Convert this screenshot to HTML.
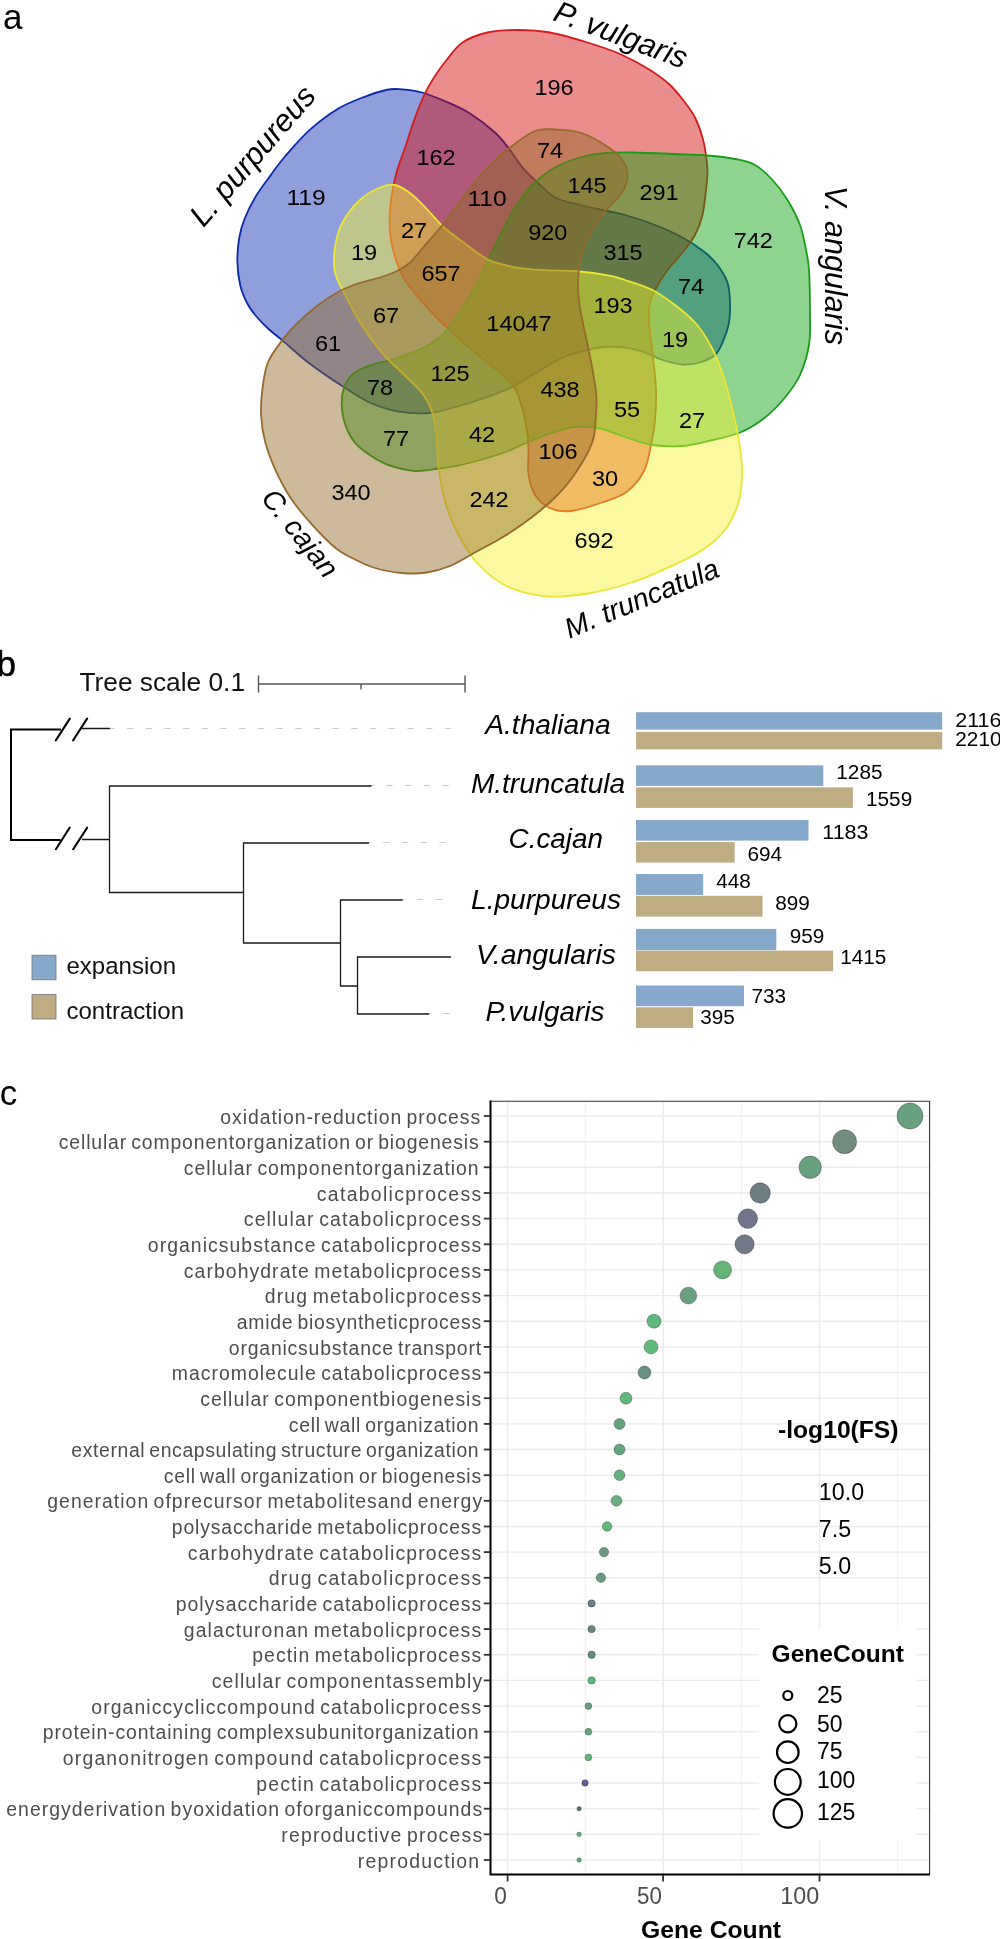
<!DOCTYPE html><html><head><meta charset="utf-8"><style>html,body{margin:0;padding:0;background:#fff;}svg{display:block;will-change:transform;}text{font-family:"Liberation Sans",sans-serif;}</style></head><body>
<svg width="1000" height="1939" viewBox="0 0 1000 1939">
<rect width="1000" height="1939" fill="#fff"/>
<text x="3" y="28.8" font-size="35" fill="#000">a</text>
<path d="M386.0,90.0 C391.8,88.7 393.0,88.7 399.0,89.1 C405.0,89.5 414.2,90.4 422.0,92.5 C429.8,94.6 438.0,98.1 446.0,101.6 C454.0,105.1 461.8,108.3 470.0,113.5 C478.2,118.7 488.3,126.4 495.0,132.5 C501.7,138.6 505.4,144.2 510.0,150.0 C514.6,155.8 517.9,162.1 522.5,167.5 C527.1,172.9 532.1,177.5 537.5,182.5 C542.9,187.5 547.9,193.8 555.0,197.5 C562.1,201.2 571.2,202.8 580.0,205.0 C588.8,207.2 600.0,209.3 607.5,211.0 C615.0,212.7 617.1,212.7 625.0,215.0 C632.9,217.3 645.4,221.2 655.0,225.0 C664.6,228.8 674.2,232.9 682.5,237.5 C690.8,242.1 699.2,247.9 705.0,252.5 C710.8,257.1 713.8,260.0 717.5,265.0 C721.2,270.0 725.4,276.2 727.5,282.5 C729.6,288.8 729.8,295.8 730.0,302.5 C730.2,309.2 730.2,315.8 729.0,322.5 C727.8,329.2 724.8,337.1 722.5,342.5 C720.2,347.9 718.8,351.7 715.0,355.0 C711.2,358.3 705.4,360.9 700.0,362.5 C694.6,364.1 688.8,364.9 682.5,364.5 C676.2,364.1 668.8,362.0 662.5,360.0 C656.2,358.0 651.2,354.6 645.0,352.5 C638.8,350.4 632.5,348.3 625.0,347.5 C617.5,346.7 609.8,346.1 600.0,347.5 C590.2,348.9 576.8,352.0 566.4,356.0 C556.0,360.0 546.9,366.4 537.8,371.6 C528.7,376.8 520.5,382.9 511.8,387.2 C503.1,391.5 495.8,394.1 485.8,397.6 C475.8,401.1 461.5,405.4 452.0,408.0 C442.5,410.6 437.9,412.6 428.8,413.1 C419.7,413.7 407.6,413.1 397.6,411.3 C387.6,409.5 378.1,406.3 369.0,402.2 C359.9,398.1 353.0,393.1 343.0,386.6 C333.0,380.1 319.2,370.8 309.2,363.2 C299.2,355.6 290.1,346.9 283.2,341.1 C276.3,335.3 272.5,332.7 268.0,328.5 C263.5,324.3 259.4,320.1 256.0,316.0 C252.6,311.9 250.2,309.0 247.6,304.0 C245.0,299.0 242.1,293.0 240.4,286.0 C238.7,279.0 237.6,270.0 237.4,262.0 C237.2,254.0 238.0,245.2 239.2,238.0 C240.4,230.8 241.7,226.0 244.5,219.0 C247.3,212.0 251.7,203.2 256.0,196.0 C260.3,188.8 265.6,182.2 270.4,175.6 C275.2,169.0 278.5,164.0 285.0,156.5 C291.5,149.0 300.4,138.3 309.2,130.4 C318.0,122.5 328.8,114.4 338.0,108.8 C347.2,103.2 356.4,99.9 364.4,96.8 C372.4,93.7 380.2,91.3 386.0,90.0 Z" fill="rgb(12,46,179)" fill-opacity="0.46" stroke="rgb(10,42,168)" stroke-width="1.8"/>
<path d="M517.5,30.0 C527.9,30.0 538.3,30.4 550.0,32.5 C561.7,34.6 575.8,38.9 587.5,42.5 C599.2,46.1 609.6,49.4 620.0,54.0 C630.4,58.6 641.7,64.8 650.0,70.0 C658.3,75.2 664.2,79.6 670.0,85.0 C675.8,90.4 680.8,97.1 685.0,102.5 C689.2,107.9 692.1,111.7 695.0,117.5 C697.9,123.3 700.7,131.2 702.5,137.5 C704.3,143.8 705.2,149.2 706.0,155.0 C706.8,160.8 707.5,166.7 707.5,172.5 C707.5,178.3 706.8,182.9 706.0,190.0 C705.2,197.1 704.3,207.5 702.5,215.0 C700.7,222.5 698.3,228.8 695.0,235.0 C691.7,241.2 687.1,246.7 682.5,252.5 C677.9,258.3 672.1,263.8 667.5,270.0 C662.9,276.2 657.9,284.6 655.0,290.0 C652.1,295.4 651.0,297.1 650.0,302.5 C649.0,307.9 648.6,314.2 649.0,322.5 C649.4,330.8 651.3,341.2 652.5,352.5 C653.7,363.8 655.6,378.8 656.0,390.0 C656.4,401.2 655.8,410.8 655.0,420.0 C654.2,429.2 652.8,436.5 651.0,445.0 C649.2,453.5 648.1,463.2 644.0,471.0 C639.9,478.8 633.5,486.8 626.5,492.0 C619.5,497.2 611.3,499.3 602.0,502.5 C592.7,505.7 579.2,510.1 570.5,511.0 C561.8,511.9 555.3,510.3 549.5,507.8 C543.7,505.2 539.0,501.0 535.5,495.5 C532.0,490.0 529.7,482.1 528.5,474.5 C527.3,466.9 528.7,456.8 528.5,450.0 C528.3,443.2 528.4,441.0 527.4,434.0 C526.4,427.0 524.4,415.8 522.2,408.0 C520.0,400.2 518.3,393.3 514.4,387.2 C510.5,381.1 505.7,377.7 498.8,371.6 C491.9,365.5 481.5,358.2 472.8,350.8 C464.1,343.4 453.7,333.9 446.8,327.4 C439.9,320.9 436.8,317.9 431.2,311.8 C425.6,305.7 418.0,297.5 413.0,291.0 C408.0,284.5 404.7,281.5 401.0,273.0 C397.3,264.5 392.8,250.5 391.0,240.0 C389.2,229.5 389.2,220.7 390.0,210.0 C390.8,199.3 393.1,186.5 395.6,176.0 C398.1,165.5 402.0,156.8 405.2,147.2 C408.4,137.6 411.6,127.2 414.8,118.4 C418.0,109.6 421.4,101.2 424.6,94.4 C427.8,87.6 430.4,83.2 434.0,77.6 C437.6,72.0 441.2,66.6 446.0,60.8 C450.8,54.9 455.6,47.2 462.5,42.5 C469.4,37.8 478.3,34.6 487.5,32.5 C496.7,30.4 507.1,30.0 517.5,30.0 Z" fill="rgb(214,7,7)" fill-opacity="0.46" stroke="rgb(212,28,28)" stroke-width="1.8"/>
<path d="M632.5,152.5 C644.2,152.7 662.5,153.5 675.0,154.0 C687.5,154.5 697.5,154.7 707.5,155.5 C717.5,156.3 727.1,157.4 735.0,159.0 C742.9,160.6 748.8,161.5 755.0,165.0 C761.2,168.5 767.1,174.2 772.5,180.0 C777.9,185.8 782.9,192.5 787.5,200.0 C792.1,207.5 796.9,216.7 800.0,225.0 C803.1,233.3 804.5,242.5 806.0,250.0 C807.5,257.5 808.3,259.2 809.0,270.0 C809.7,280.8 810.0,302.5 810.0,315.0 C810.0,327.5 810.7,335.0 809.0,345.0 C807.3,355.0 804.0,366.2 800.0,375.0 C796.0,383.8 790.8,390.4 785.0,397.5 C779.2,404.6 772.5,411.7 765.0,417.5 C757.5,423.3 748.8,428.8 740.0,432.5 C731.2,436.2 722.1,437.8 712.5,440.0 C702.9,442.2 692.5,445.2 682.5,446.0 C672.5,446.8 662.1,446.5 652.5,445.0 C642.9,443.5 633.8,439.8 625.0,437.0 C616.2,434.2 608.5,430.2 600.0,428.5 C591.5,426.8 582.3,426.2 574.0,427.0 C565.7,427.8 558.0,430.8 550.0,433.5 C542.0,436.2 533.8,439.8 526.0,443.0 C518.2,446.2 510.7,450.2 503.0,453.0 C495.3,455.8 487.5,457.9 480.0,460.0 C472.5,462.1 464.8,464.1 458.0,465.5 C451.2,466.9 446.2,467.6 439.2,468.5 C432.2,469.4 423.2,471.3 415.8,471.1 C408.4,470.9 401.5,469.1 395.0,467.2 C388.5,465.2 383.3,463.3 376.8,459.4 C370.3,455.5 361.2,449.4 356.0,443.8 C350.8,438.2 348.0,432.1 345.6,425.6 C343.2,419.1 341.9,411.3 341.7,404.8 C341.5,398.3 342.4,391.8 344.3,386.6 C346.2,381.4 349.3,377.1 353.4,373.6 C357.5,370.1 361.6,368.4 369.0,365.8 C376.4,363.2 387.6,361.5 397.6,358.0 C407.6,354.5 420.4,349.9 428.8,345.0 C437.2,340.1 440.7,337.5 448.0,328.5 C455.3,319.5 466.1,302.4 472.8,291.0 C479.5,279.6 483.0,270.6 488.4,259.8 C493.8,249.0 499.7,236.0 505.0,226.0 C510.3,216.0 515.0,207.2 520.0,200.0 C525.0,192.8 529.2,187.9 535.0,182.5 C540.8,177.1 547.5,171.7 555.0,167.5 C562.5,163.3 571.7,159.9 580.0,157.5 C588.3,155.1 596.2,153.8 605.0,153.0 C613.8,152.2 620.8,152.3 632.5,152.5 Z" fill="rgb(9,162,14)" fill-opacity="0.46" stroke="rgb(22,158,22)" stroke-width="1.8"/>
<path d="M380.0,187.5 C385.8,185.0 389.6,183.8 395.0,185.0 C400.4,186.2 406.7,190.4 412.5,195.0 C418.3,199.6 424.8,207.1 430.0,212.5 C435.2,217.9 438.6,222.7 444.0,227.5 C449.4,232.3 455.0,236.2 462.4,241.6 C469.8,247.0 479.3,255.5 488.4,259.8 C497.5,264.1 507.5,265.9 517.0,267.6 C526.5,269.3 535.2,269.6 545.6,270.2 C556.0,270.8 569.0,270.6 579.4,271.5 C589.8,272.4 600.4,274.0 608.0,275.4 C615.6,276.8 617.6,277.6 625.0,280.0 C632.4,282.4 644.2,285.8 652.5,290.0 C660.8,294.2 667.9,299.6 675.0,305.0 C682.1,310.4 689.6,316.7 695.0,322.5 C700.4,328.3 703.8,333.8 707.5,340.0 C711.2,346.2 714.2,351.7 717.5,360.0 C720.8,368.3 724.4,379.2 727.5,390.0 C730.6,400.8 733.8,414.2 736.0,425.0 C738.2,435.8 740.0,446.7 741.0,455.0 C742.0,463.3 742.4,467.1 742.0,475.0 C741.6,482.9 741.4,493.2 738.5,502.5 C735.6,511.8 730.9,522.3 724.5,530.5 C718.1,538.7 709.9,545.1 700.0,551.5 C690.1,557.9 676.7,563.8 665.0,569.0 C653.3,574.2 642.8,578.9 630.0,583.0 C617.2,587.1 602.0,591.3 588.0,593.5 C574.0,595.7 559.4,597.5 546.0,596.3 C532.6,595.1 518.6,591.6 507.5,586.5 C496.4,581.4 487.4,573.7 479.5,565.5 C471.6,557.3 465.6,547.6 460.0,537.5 C454.4,527.4 449.6,516.7 446.0,505.0 C442.4,493.3 440.1,479.0 438.5,467.5 C436.9,456.0 437.8,445.6 436.6,436.0 C435.4,426.4 434.0,417.4 431.4,410.0 C428.8,402.6 425.8,397.9 421.0,391.8 C416.2,385.7 409.3,380.1 402.8,373.6 C396.3,367.1 388.9,361.0 382.0,352.8 C375.1,344.6 367.3,333.7 361.2,324.2 C355.1,314.7 350.0,304.2 345.6,295.6 C341.2,287.0 336.8,280.5 335.0,272.5 C333.2,264.5 333.8,255.8 335.0,247.5 C336.2,239.2 338.3,230.4 342.5,222.5 C346.7,214.6 353.8,205.8 360.0,200.0 C366.2,194.2 374.2,190.0 380.0,187.5 Z" fill="rgb(244,242,48)" fill-opacity="0.46" stroke="rgb(236,230,50)" stroke-width="1.8"/>
<path d="M535.0,131.0 C542.5,128.0 547.5,129.2 555.0,129.5 C562.5,129.8 571.7,129.9 580.0,132.5 C588.3,135.1 597.9,140.4 605.0,145.0 C612.1,149.6 618.8,155.0 622.5,160.0 C626.2,165.0 627.5,169.7 627.5,175.0 C627.5,180.3 625.6,186.7 622.5,192.0 C619.4,197.3 613.1,202.2 609.0,207.0 C604.9,211.8 600.9,216.0 597.6,220.8 C594.3,225.6 591.6,230.8 589.0,236.0 C586.4,241.2 583.8,245.0 582.0,252.0 C580.2,259.0 578.5,269.3 578.1,278.0 C577.7,286.7 577.9,293.2 579.4,304.0 C580.9,314.8 585.0,332.2 587.2,343.0 C589.4,353.8 590.9,360.3 592.4,369.0 C593.9,377.7 595.7,387.5 596.3,395.0 C596.9,402.5 596.4,407.2 596.0,414.0 C595.6,420.8 595.2,429.8 594.0,436.0 C592.8,442.2 590.8,446.0 588.5,451.0 C586.2,456.0 583.2,460.8 580.0,466.0 C576.8,471.2 573.0,476.9 569.0,482.0 C565.0,487.1 560.7,491.8 556.0,496.5 C551.3,501.2 546.7,505.3 541.0,510.0 C535.3,514.7 528.8,519.7 522.0,524.5 C515.2,529.3 508.0,534.0 500.0,538.8 C492.0,543.5 482.3,548.5 474.0,553.0 C465.7,557.5 457.8,562.8 450.0,566.0 C442.2,569.2 435.0,571.3 427.0,572.5 C419.0,573.7 410.7,573.8 402.0,573.0 C393.3,572.2 383.3,570.5 375.0,568.0 C366.7,565.5 358.6,561.4 352.0,558.0 C345.4,554.6 341.9,553.4 335.2,547.8 C328.5,542.2 319.2,532.6 311.8,524.4 C304.4,516.2 297.1,507.5 291.0,498.4 C284.9,489.3 279.7,479.3 275.4,469.8 C271.1,460.3 267.4,450.3 265.0,441.2 C262.6,432.1 261.5,423.9 261.1,415.2 C260.7,406.5 261.3,397.9 262.4,389.2 C263.5,380.5 264.6,371.0 267.6,363.2 C270.6,355.4 275.8,348.9 280.6,342.4 C285.4,335.9 290.1,330.3 296.2,324.2 C302.3,318.1 310.0,311.4 317.0,306.0 C324.0,300.6 331.2,295.8 338.0,292.0 C344.8,288.2 351.0,285.9 358.0,283.5 C365.0,281.1 373.7,279.5 380.0,277.5 C386.3,275.5 391.0,274.0 396.0,271.5 C401.0,269.0 405.3,266.7 410.0,262.5 C414.7,258.3 418.7,252.6 424.0,246.5 C429.3,240.4 435.4,233.8 441.6,226.0 C447.8,218.2 453.8,209.3 461.0,200.0 C468.2,190.7 476.8,178.8 485.0,170.0 C493.2,161.2 501.7,154.0 510.0,147.5 C518.3,141.0 527.5,134.0 535.0,131.0 Z" fill="rgb(146,103,38)" fill-opacity="0.46" stroke="rgb(150,105,45)" stroke-width="1.8"/>
<text x="554" y="94.8" font-size="22.4" text-anchor="middle" fill="#000" textLength="39.2" lengthAdjust="spacingAndGlyphs">196</text>
<text x="436" y="164.8" font-size="22.4" text-anchor="middle" fill="#000" textLength="39.2" lengthAdjust="spacingAndGlyphs">162</text>
<text x="550" y="157.8" font-size="22.4" text-anchor="middle" fill="#000" textLength="26.2" lengthAdjust="spacingAndGlyphs">74</text>
<text x="306" y="205.3" font-size="22.4" text-anchor="middle" fill="#000" textLength="39.2" lengthAdjust="spacingAndGlyphs">119</text>
<text x="487" y="205.8" font-size="22.4" text-anchor="middle" fill="#000" textLength="39.2" lengthAdjust="spacingAndGlyphs">110</text>
<text x="587" y="192.8" font-size="22.4" text-anchor="middle" fill="#000" textLength="39.2" lengthAdjust="spacingAndGlyphs">145</text>
<text x="659" y="199.8" font-size="22.4" text-anchor="middle" fill="#000" textLength="39.2" lengthAdjust="spacingAndGlyphs">291</text>
<text x="414" y="237.8" font-size="22.4" text-anchor="middle" fill="#000" textLength="26.2" lengthAdjust="spacingAndGlyphs">27</text>
<text x="547.8" y="239.8" font-size="22.4" text-anchor="middle" fill="#000" textLength="39.2" lengthAdjust="spacingAndGlyphs">920</text>
<text x="753.3" y="247.8" font-size="22.4" text-anchor="middle" fill="#000" textLength="39.2" lengthAdjust="spacingAndGlyphs">742</text>
<text x="364" y="259.8" font-size="22.4" text-anchor="middle" fill="#000" textLength="26.2" lengthAdjust="spacingAndGlyphs">19</text>
<text x="441" y="280.8" font-size="22.4" text-anchor="middle" fill="#000" textLength="39.2" lengthAdjust="spacingAndGlyphs">657</text>
<text x="623" y="259.8" font-size="22.4" text-anchor="middle" fill="#000" textLength="39.2" lengthAdjust="spacingAndGlyphs">315</text>
<text x="691" y="293.8" font-size="22.4" text-anchor="middle" fill="#000" textLength="26.2" lengthAdjust="spacingAndGlyphs">74</text>
<text x="386" y="322.8" font-size="22.4" text-anchor="middle" fill="#000" textLength="26.2" lengthAdjust="spacingAndGlyphs">67</text>
<text x="519" y="330.8" font-size="22.4" text-anchor="middle" fill="#000" textLength="65.4" lengthAdjust="spacingAndGlyphs">14047</text>
<text x="613" y="312.8" font-size="22.4" text-anchor="middle" fill="#000" textLength="39.2" lengthAdjust="spacingAndGlyphs">193</text>
<text x="328" y="350.8" font-size="22.4" text-anchor="middle" fill="#000" textLength="26.2" lengthAdjust="spacingAndGlyphs">61</text>
<text x="675" y="346.8" font-size="22.4" text-anchor="middle" fill="#000" textLength="26.2" lengthAdjust="spacingAndGlyphs">19</text>
<text x="450" y="380.8" font-size="22.4" text-anchor="middle" fill="#000" textLength="39.2" lengthAdjust="spacingAndGlyphs">125</text>
<text x="380" y="394.8" font-size="22.4" text-anchor="middle" fill="#000" textLength="26.2" lengthAdjust="spacingAndGlyphs">78</text>
<text x="560" y="396.8" font-size="22.4" text-anchor="middle" fill="#000" textLength="39.2" lengthAdjust="spacingAndGlyphs">438</text>
<text x="627" y="416.8" font-size="22.4" text-anchor="middle" fill="#000" textLength="26.2" lengthAdjust="spacingAndGlyphs">55</text>
<text x="692" y="427.8" font-size="22.4" text-anchor="middle" fill="#000" textLength="26.2" lengthAdjust="spacingAndGlyphs">27</text>
<text x="396" y="445.8" font-size="22.4" text-anchor="middle" fill="#000" textLength="26.2" lengthAdjust="spacingAndGlyphs">77</text>
<text x="482" y="441.8" font-size="22.4" text-anchor="middle" fill="#000" textLength="26.2" lengthAdjust="spacingAndGlyphs">42</text>
<text x="558" y="458.8" font-size="22.4" text-anchor="middle" fill="#000" textLength="39.2" lengthAdjust="spacingAndGlyphs">106</text>
<text x="605" y="485.8" font-size="22.4" text-anchor="middle" fill="#000" textLength="26.2" lengthAdjust="spacingAndGlyphs">30</text>
<text x="351" y="499.8" font-size="22.4" text-anchor="middle" fill="#000" textLength="39.2" lengthAdjust="spacingAndGlyphs">340</text>
<text x="489" y="506.8" font-size="22.4" text-anchor="middle" fill="#000" textLength="39.2" lengthAdjust="spacingAndGlyphs">242</text>
<text x="594" y="547.8" font-size="22.4" text-anchor="middle" fill="#000" textLength="39.2" lengthAdjust="spacingAndGlyphs">692</text>
<text transform="translate(621.0,34.6) rotate(20.5)" x="0" y="0" font-size="30.8" text-anchor="middle" dominant-baseline="central" font-style="italic" fill="#000">P. vulgaris</text>
<text transform="translate(252.6,155.6) rotate(-49.1)" x="0" y="0" font-size="31" text-anchor="middle" dominant-baseline="central" font-style="italic" fill="#000">L. purpureus</text>
<text transform="translate(835.5,265.5) rotate(90.0)" x="0" y="0" font-size="30.6" text-anchor="middle" dominant-baseline="central" font-style="italic" fill="#000">V. angularis</text>
<text transform="translate(641.5,598.0) rotate(-22.5)" x="0" y="0" font-size="28.4" text-anchor="middle" dominant-baseline="central" font-style="italic" fill="#000">M. truncatula</text>
<text transform="translate(300.5,533.0) rotate(51.5)" x="0" y="0" font-size="28.3" text-anchor="middle" dominant-baseline="central" font-style="italic" fill="#000">C. cajan</text>
<text x="-3.4" y="675.8" font-size="35" fill="#000" stroke="#000" stroke-width="0.5">b</text>
<text x="79.5" y="690.6" font-size="25.5" fill="#111" textLength="165.5" lengthAdjust="spacingAndGlyphs">Tree scale 0.1</text>
<g stroke="#555" stroke-width="1.4" fill="none"><path d="M258.5,684H465M258.5,675.5V692.5M465,675.5V692.5M361,684V689.5"/></g>
<g stroke="#bdbdbd" stroke-width="0.8" stroke-dasharray="6.4,12.3" fill="none"><path d="M108.2,728.5H452M367.5,785.5H452M364.5,842.5H452M398,899.5H452M424.5,1013.5H452"/></g>
<g stroke="#000" stroke-width="2" fill="none" stroke-linecap="butt"><path d="M11,728.6V841M10,729.6H61M10,840H60.5"/><path d="M55.9,740.3L69.8,718.6M73.2,740.3L87.1,718.6M55.9,849.2L69.6,827.7M73.2,849.2L87.1,827.7" stroke-width="2.1" stroke-linecap="round"/></g>
<g stroke="#1a1a1a" stroke-width="1.3" fill="none"><path d="M81.9,728.5H110M81.9,839.5H110"/><path d="M109.5,785.5V893M109,786H371.5M243.5,842.5V943.5M243,843H369M109,892.5H243M340.5,899.5V986.5M340,900H402.5M243,943H340M357.5,956.5V1014.5M357,957H451M357,1014H429M340,986H357"/></g>
<rect x="32" y="955.2" width="24" height="24.6" fill="#86a8cb" stroke="#777" stroke-width="0.8"/>
<rect x="32" y="994.4" width="24" height="24.6" fill="#beac82" stroke="#777" stroke-width="0.8"/>
<text x="66.5" y="973.8" font-size="24.3" fill="#111" textLength="109.5" lengthAdjust="spacingAndGlyphs">expansion</text>
<text x="66.5" y="1018.6" font-size="24.3" fill="#111" textLength="117.5" lengthAdjust="spacingAndGlyphs">contraction</text>
<text x="485.2" y="734.4" font-size="27" font-style="italic" fill="#000" textLength="125.4" lengthAdjust="spacingAndGlyphs">A.thaliana</text>
<text x="471.0" y="793.0" font-size="27" font-style="italic" fill="#000" textLength="154.0" lengthAdjust="spacingAndGlyphs">M.truncatula</text>
<text x="508.6" y="848.4" font-size="27" font-style="italic" fill="#000" textLength="94.4" lengthAdjust="spacingAndGlyphs">C.cajan</text>
<text x="471.0" y="909.0" font-size="27" font-style="italic" fill="#000" textLength="150.0" lengthAdjust="spacingAndGlyphs">L.purpureus</text>
<text x="476.0" y="964.4" font-size="27" font-style="italic" fill="#000" textLength="140.0" lengthAdjust="spacingAndGlyphs">V.angularis</text>
<text x="485.6" y="1021.0" font-size="27" font-style="italic" fill="#000" textLength="118.8" lengthAdjust="spacingAndGlyphs">P.vulgaris</text>
<rect x="636" y="712.2" width="306.2" height="17.4" fill="#86a8cb"/>
<rect x="636" y="731.9" width="306.2" height="17.5" fill="#beac82"/>
<rect x="636" y="765.3" width="187.3" height="20.6" fill="#86a8cb"/>
<rect x="636" y="787.4" width="216.9" height="20.5" fill="#beac82"/>
<rect x="636" y="820.0" width="172.5" height="20.6" fill="#86a8cb"/>
<rect x="636" y="842.1" width="98.7" height="20.5" fill="#beac82"/>
<rect x="636" y="874.0" width="67.2" height="21.0" fill="#86a8cb"/>
<rect x="636" y="895.8" width="126.5" height="20.8" fill="#beac82"/>
<rect x="636" y="928.9" width="140.3" height="21.3" fill="#86a8cb"/>
<rect x="636" y="950.7" width="197.1" height="20.5" fill="#beac82"/>
<rect x="636" y="985.5" width="108.0" height="20.7" fill="#86a8cb"/>
<rect x="636" y="1007.3" width="57.1" height="20.7" fill="#beac82"/>
<text x="955.3" y="727.4" font-size="19.5" fill="#000" textLength="46.2" lengthAdjust="spacingAndGlyphs">2116</text>
<text x="955.3" y="746.4" font-size="19.5" fill="#000" textLength="46.2" lengthAdjust="spacingAndGlyphs">2210</text>
<text x="836.3" y="779.0" font-size="19.5" fill="#000" textLength="46.2" lengthAdjust="spacingAndGlyphs">1285</text>
<text x="866.0" y="805.6" font-size="19.5" fill="#000" textLength="46.2" lengthAdjust="spacingAndGlyphs">1559</text>
<text x="822.3" y="839.4" font-size="19.5" fill="#000" textLength="46.2" lengthAdjust="spacingAndGlyphs">1183</text>
<text x="747.4" y="861.1" font-size="19.5" fill="#000" textLength="34.6" lengthAdjust="spacingAndGlyphs">694</text>
<text x="716.2" y="888.0" font-size="19.5" fill="#000" textLength="34.6" lengthAdjust="spacingAndGlyphs">448</text>
<text x="775.3" y="909.8" font-size="19.5" fill="#000" textLength="34.6" lengthAdjust="spacingAndGlyphs">899</text>
<text x="789.8" y="942.9" font-size="19.5" fill="#000" textLength="34.6" lengthAdjust="spacingAndGlyphs">959</text>
<text x="840.2" y="964.2" font-size="19.5" fill="#000" textLength="46.2" lengthAdjust="spacingAndGlyphs">1415</text>
<text x="751.5" y="1002.8" font-size="19.5" fill="#000" textLength="34.6" lengthAdjust="spacingAndGlyphs">733</text>
<text x="700.2" y="1024.4" font-size="19.5" fill="#000" textLength="34.6" lengthAdjust="spacingAndGlyphs">395</text>
<text x="-0.2" y="1104.6" font-size="35" fill="#000">c</text>
<g stroke="#ebebeb" fill="none">
<path d="M491,1116.0H929" stroke-width="1.4"/>
<path d="M491,1141.7H929" stroke-width="1.4"/>
<path d="M491,1167.3H929" stroke-width="1.4"/>
<path d="M491,1193.0H929" stroke-width="1.4"/>
<path d="M491,1218.6H929" stroke-width="1.4"/>
<path d="M491,1244.3H929" stroke-width="1.4"/>
<path d="M491,1269.9H929" stroke-width="1.4"/>
<path d="M491,1295.6H929" stroke-width="1.4"/>
<path d="M491,1321.2H929" stroke-width="1.4"/>
<path d="M491,1346.9H929" stroke-width="1.4"/>
<path d="M491,1372.5H929" stroke-width="1.4"/>
<path d="M491,1398.2H929" stroke-width="1.4"/>
<path d="M491,1423.9H929" stroke-width="1.4"/>
<path d="M491,1449.5H929" stroke-width="1.4"/>
<path d="M491,1475.2H929" stroke-width="1.4"/>
<path d="M491,1500.8H929" stroke-width="1.4"/>
<path d="M491,1526.5H929" stroke-width="1.4"/>
<path d="M491,1552.1H929" stroke-width="1.4"/>
<path d="M491,1577.8H929" stroke-width="1.4"/>
<path d="M491,1603.4H929" stroke-width="1.4"/>
<path d="M491,1629.1H929" stroke-width="1.4"/>
<path d="M491,1654.8H929" stroke-width="1.4"/>
<path d="M491,1680.4H929" stroke-width="1.4"/>
<path d="M491,1706.1H929" stroke-width="1.4"/>
<path d="M491,1731.7H929" stroke-width="1.4"/>
<path d="M491,1757.4H929" stroke-width="1.4"/>
<path d="M491,1783.0H929" stroke-width="1.4"/>
<path d="M491,1808.7H929" stroke-width="1.4"/>
<path d="M491,1834.3H929" stroke-width="1.4"/>
<path d="M491,1860.0H929" stroke-width="1.4"/>
<path d="M507.5,1101.5V1874" stroke-width="1.4"/>
<path d="M663.3,1101.5V1874" stroke-width="1.4"/>
<path d="M819.5,1101.5V1874" stroke-width="1.4"/>
<path d="M585.4,1101.5V1874" stroke-width="0.8"/>
<path d="M741.4,1101.5V1874" stroke-width="0.8"/>
<path d="M897.6,1101.5V1874" stroke-width="0.8"/>
</g>
<path d="M490,1101.2H929.6V1874.5" stroke="#333" stroke-width="1.1" fill="none"/>
<path d="M490.5,1100.5V1874.5H930" stroke="#000" stroke-width="2" fill="none"/>
<g stroke="#333" stroke-width="1.8">
<path d="M483.8,1116.0H490"/>
<path d="M483.8,1141.7H490"/>
<path d="M483.8,1167.3H490"/>
<path d="M483.8,1193.0H490"/>
<path d="M483.8,1218.6H490"/>
<path d="M483.8,1244.3H490"/>
<path d="M483.8,1269.9H490"/>
<path d="M483.8,1295.6H490"/>
<path d="M483.8,1321.2H490"/>
<path d="M483.8,1346.9H490"/>
<path d="M483.8,1372.5H490"/>
<path d="M483.8,1398.2H490"/>
<path d="M483.8,1423.9H490"/>
<path d="M483.8,1449.5H490"/>
<path d="M483.8,1475.2H490"/>
<path d="M483.8,1500.8H490"/>
<path d="M483.8,1526.5H490"/>
<path d="M483.8,1552.1H490"/>
<path d="M483.8,1577.8H490"/>
<path d="M483.8,1603.4H490"/>
<path d="M483.8,1629.1H490"/>
<path d="M483.8,1654.8H490"/>
<path d="M483.8,1680.4H490"/>
<path d="M483.8,1706.1H490"/>
<path d="M483.8,1731.7H490"/>
<path d="M483.8,1757.4H490"/>
<path d="M483.8,1783.0H490"/>
<path d="M483.8,1808.7H490"/>
<path d="M483.8,1834.3H490"/>
<path d="M483.8,1860.0H490"/>
<path d="M507.6,1875V1881.5"/>
<path d="M663.1,1875V1881.5"/>
<path d="M819.5,1875V1881.5"/>
</g>
<text x="220.3" y="1123.6" font-size="19.4" fill="#4d4d4d" word-spacing="-2" textLength="259.8" lengthAdjust="spacing">oxidation-reduction process</text>
<text x="58.8" y="1149.3" font-size="19.4" fill="#4d4d4d" word-spacing="-2" textLength="419.8" lengthAdjust="spacing">cellular componentorganization or biogenesis</text>
<text x="183.8" y="1174.9" font-size="19.4" fill="#4d4d4d" word-spacing="-2" textLength="294.8" lengthAdjust="spacing">cellular componentorganization</text>
<text x="316.8" y="1200.6" font-size="19.4" fill="#4d4d4d" word-spacing="-2" textLength="164.3" lengthAdjust="spacing">catabolicprocess</text>
<text x="243.8" y="1226.2" font-size="19.4" fill="#4d4d4d" word-spacing="-2" textLength="237.3" lengthAdjust="spacing">cellular catabolicprocess</text>
<text x="147.8" y="1251.9" font-size="19.4" fill="#4d4d4d" word-spacing="-2" textLength="333.3" lengthAdjust="spacing">organicsubstance catabolicprocess</text>
<text x="183.8" y="1277.5" font-size="19.4" fill="#4d4d4d" word-spacing="-2" textLength="297.3" lengthAdjust="spacing">carbohydrate metabolicprocess</text>
<text x="264.8" y="1303.2" font-size="19.4" fill="#4d4d4d" word-spacing="-2" textLength="216.3" lengthAdjust="spacing">drug metabolicprocess</text>
<text x="236.8" y="1328.8" font-size="19.4" fill="#4d4d4d" word-spacing="-2" textLength="244.3" lengthAdjust="spacing">amide biosyntheticprocess</text>
<text x="228.8" y="1354.5" font-size="19.4" fill="#4d4d4d" word-spacing="-2" textLength="252.3" lengthAdjust="spacing">organicsubstance transport</text>
<text x="171.8" y="1380.1" font-size="19.4" fill="#4d4d4d" word-spacing="-2" textLength="309.3" lengthAdjust="spacing">macromolecule catabolicprocess</text>
<text x="200.3" y="1405.8" font-size="19.4" fill="#4d4d4d" word-spacing="-2" textLength="280.8" lengthAdjust="spacing">cellular componentbiogenesis</text>
<text x="288.8" y="1431.5" font-size="19.4" fill="#4d4d4d" word-spacing="-2" textLength="189.8" lengthAdjust="spacing">cell wall organization</text>
<text x="71.3" y="1457.1" font-size="19.4" fill="#4d4d4d" word-spacing="-2" textLength="407.3" lengthAdjust="spacing">external encapsulating structure organization</text>
<text x="163.8" y="1482.8" font-size="19.4" fill="#4d4d4d" word-spacing="-2" textLength="317.3" lengthAdjust="spacing">cell wall organization or biogenesis</text>
<text x="47.3" y="1508.4" font-size="19.4" fill="#4d4d4d" word-spacing="-2" textLength="434.8" lengthAdjust="spacing">generation ofprecursor metabolitesand energy</text>
<text x="171.8" y="1534.1" font-size="19.4" fill="#4d4d4d" word-spacing="-2" textLength="309.3" lengthAdjust="spacing">polysaccharide metabolicprocess</text>
<text x="187.8" y="1559.7" font-size="19.4" fill="#4d4d4d" word-spacing="-2" textLength="293.3" lengthAdjust="spacing">carbohydrate catabolicprocess</text>
<text x="268.8" y="1585.4" font-size="19.4" fill="#4d4d4d" word-spacing="-2" textLength="212.3" lengthAdjust="spacing">drug catabolicprocess</text>
<text x="175.8" y="1611.0" font-size="19.4" fill="#4d4d4d" word-spacing="-2" textLength="305.3" lengthAdjust="spacing">polysaccharide catabolicprocess</text>
<text x="183.8" y="1636.7" font-size="19.4" fill="#4d4d4d" word-spacing="-2" textLength="297.3" lengthAdjust="spacing">galacturonan metabolicprocess</text>
<text x="252.3" y="1662.4" font-size="19.4" fill="#4d4d4d" word-spacing="-2" textLength="228.8" lengthAdjust="spacing">pectin metabolicprocess</text>
<text x="211.8" y="1688.0" font-size="19.4" fill="#4d4d4d" word-spacing="-2" textLength="270.3" lengthAdjust="spacing">cellular componentassembly</text>
<text x="91.3" y="1713.7" font-size="19.4" fill="#4d4d4d" word-spacing="-2" textLength="389.8" lengthAdjust="spacing">organiccycliccompound catabolicprocess</text>
<text x="42.8" y="1739.3" font-size="19.4" fill="#4d4d4d" word-spacing="-2" textLength="435.8" lengthAdjust="spacing">protein-containing complexsubunitorganization</text>
<text x="62.8" y="1765.0" font-size="19.4" fill="#4d4d4d" word-spacing="-2" textLength="418.3" lengthAdjust="spacing">organonitrogen compound catabolicprocess</text>
<text x="256.3" y="1790.6" font-size="19.4" fill="#4d4d4d" word-spacing="-2" textLength="224.8" lengthAdjust="spacing">pectin catabolicprocess</text>
<text x="6.3" y="1816.3" font-size="19.4" fill="#4d4d4d" word-spacing="-2" textLength="475.8" lengthAdjust="spacing">energyderivation byoxidation oforganiccompounds</text>
<text x="281.3" y="1841.9" font-size="19.4" fill="#4d4d4d" word-spacing="-2" textLength="200.8" lengthAdjust="spacing">reproductive process</text>
<text x="357.8" y="1867.6" font-size="19.4" fill="#4d4d4d" word-spacing="-2" textLength="121.3" lengthAdjust="spacing">reproduction</text>
<text x="494.2" y="1904.4" font-size="24" fill="#4d4d4d" textLength="12.6" lengthAdjust="spacingAndGlyphs">0</text>
<text x="637.0" y="1904.4" font-size="24" fill="#4d4d4d" textLength="24.8" lengthAdjust="spacingAndGlyphs">50</text>
<text x="780.3" y="1904.4" font-size="24" fill="#4d4d4d" textLength="39.0" lengthAdjust="spacingAndGlyphs">100</text>
<text x="641" y="1938.2" font-size="24.5" font-weight="bold" fill="#000" textLength="140" lengthAdjust="spacingAndGlyphs">Gene Count</text>
<circle cx="910.0" cy="1116.0" r="13.0" fill="#69a080" stroke="#000" stroke-opacity="0.35" stroke-width="0.8"/>
<circle cx="844.6" cy="1141.7" r="12.0" fill="#738c7d" stroke="#000" stroke-opacity="0.35" stroke-width="0.8"/>
<circle cx="810.2" cy="1167.3" r="11.2" fill="#69a080" stroke="#000" stroke-opacity="0.35" stroke-width="0.8"/>
<circle cx="760.2" cy="1193.0" r="10.2" fill="#6e7d82" stroke="#000" stroke-opacity="0.35" stroke-width="0.8"/>
<circle cx="747.8" cy="1218.6" r="9.8" fill="#73738c" stroke="#000" stroke-opacity="0.35" stroke-width="0.8"/>
<circle cx="744.6" cy="1244.3" r="9.6" fill="#737887" stroke="#000" stroke-opacity="0.35" stroke-width="0.8"/>
<circle cx="722.6" cy="1269.9" r="9.0" fill="#64b478" stroke="#000" stroke-opacity="0.35" stroke-width="0.8"/>
<circle cx="688.4" cy="1295.6" r="8.4" fill="#69a080" stroke="#000" stroke-opacity="0.35" stroke-width="0.8"/>
<circle cx="654.0" cy="1321.2" r="7.0" fill="#5fb97d" stroke="#000" stroke-opacity="0.35" stroke-width="0.8"/>
<circle cx="651.0" cy="1346.9" r="7.0" fill="#5fb97d" stroke="#000" stroke-opacity="0.35" stroke-width="0.8"/>
<circle cx="644.5" cy="1372.5" r="6.5" fill="#699182" stroke="#000" stroke-opacity="0.35" stroke-width="0.8"/>
<circle cx="626.0" cy="1398.2" r="6.0" fill="#5fb97d" stroke="#000" stroke-opacity="0.35" stroke-width="0.8"/>
<circle cx="619.5" cy="1423.9" r="5.5" fill="#64a57d" stroke="#000" stroke-opacity="0.35" stroke-width="0.8"/>
<circle cx="619.5" cy="1449.5" r="5.5" fill="#64a57d" stroke="#000" stroke-opacity="0.35" stroke-width="0.8"/>
<circle cx="619.5" cy="1475.2" r="5.4" fill="#64af7d" stroke="#000" stroke-opacity="0.35" stroke-width="0.8"/>
<circle cx="616.5" cy="1500.8" r="5.4" fill="#64af7d" stroke="#000" stroke-opacity="0.35" stroke-width="0.8"/>
<circle cx="607.1" cy="1526.5" r="4.8" fill="#5fb97d" stroke="#000" stroke-opacity="0.35" stroke-width="0.8"/>
<circle cx="604.0" cy="1552.1" r="4.7" fill="#699b82" stroke="#000" stroke-opacity="0.35" stroke-width="0.8"/>
<circle cx="600.9" cy="1577.8" r="4.7" fill="#699b82" stroke="#000" stroke-opacity="0.35" stroke-width="0.8"/>
<circle cx="591.6" cy="1603.4" r="3.7" fill="#698287" stroke="#000" stroke-opacity="0.35" stroke-width="0.8"/>
<circle cx="591.6" cy="1629.1" r="3.7" fill="#648c7d" stroke="#000" stroke-opacity="0.35" stroke-width="0.8"/>
<circle cx="591.6" cy="1654.8" r="3.7" fill="#648c7d" stroke="#000" stroke-opacity="0.35" stroke-width="0.8"/>
<circle cx="591.6" cy="1680.4" r="3.7" fill="#5fb97d" stroke="#000" stroke-opacity="0.35" stroke-width="0.8"/>
<circle cx="588.4" cy="1706.1" r="3.4" fill="#64a07d" stroke="#000" stroke-opacity="0.35" stroke-width="0.8"/>
<circle cx="588.4" cy="1731.7" r="3.4" fill="#64aa7d" stroke="#000" stroke-opacity="0.35" stroke-width="0.8"/>
<circle cx="588.4" cy="1757.4" r="3.4" fill="#5fb97d" stroke="#000" stroke-opacity="0.35" stroke-width="0.8"/>
<circle cx="585.1" cy="1783.0" r="3.2" fill="#6e5a96" stroke="#000" stroke-opacity="0.35" stroke-width="0.8"/>
<circle cx="579.1" cy="1808.7" r="2.2" fill="#5a786e" stroke="#000" stroke-opacity="0.35" stroke-width="0.8"/>
<circle cx="579.1" cy="1834.3" r="2.2" fill="#5faf78" stroke="#000" stroke-opacity="0.35" stroke-width="0.8"/>
<circle cx="579.1" cy="1860.0" r="2.2" fill="#5faf78" stroke="#000" stroke-opacity="0.35" stroke-width="0.8"/>
<text x="778" y="1437.8" font-size="24" font-weight="bold" fill="#000" textLength="120.5" lengthAdjust="spacingAndGlyphs">-log10(FS)</text>
<text x="818.8" y="1499.9" font-size="24" fill="#000" textLength="45.3" lengthAdjust="spacingAndGlyphs">10.0</text>
<text x="818.8" y="1536.8" font-size="24" fill="#000" textLength="32.4" lengthAdjust="spacingAndGlyphs">7.5</text>
<text x="818.8" y="1573.7" font-size="24" fill="#000" textLength="32.4" lengthAdjust="spacingAndGlyphs">5.0</text>
<rect x="759" y="1628" width="157.5" height="212" fill="#fff"/>
<text x="771.6" y="1662.2" font-size="24" font-weight="bold" fill="#000" textLength="132.3" lengthAdjust="spacingAndGlyphs">GeneCount</text>
<circle cx="787.8" cy="1695.5" r="4.5" fill="none" stroke="#000" stroke-width="2.2"/>
<text x="817" y="1702.7" font-size="23" fill="#000">25</text>
<circle cx="787.8" cy="1723.8" r="8.6" fill="none" stroke="#000" stroke-width="2.2"/>
<text x="817" y="1731.5" font-size="23" fill="#000">50</text>
<circle cx="787.8" cy="1752.2" r="10.8" fill="none" stroke="#000" stroke-width="2.2"/>
<text x="817" y="1759.4" font-size="23" fill="#000">75</text>
<circle cx="787.8" cy="1781.9" r="12.9" fill="none" stroke="#000" stroke-width="2.2"/>
<text x="817" y="1788.2" font-size="23" fill="#000">100</text>
<circle cx="787.8" cy="1813.4" r="14.2" fill="none" stroke="#000" stroke-width="2.2"/>
<text x="817" y="1819.7" font-size="23" fill="#000">125</text>
</svg></body></html>
